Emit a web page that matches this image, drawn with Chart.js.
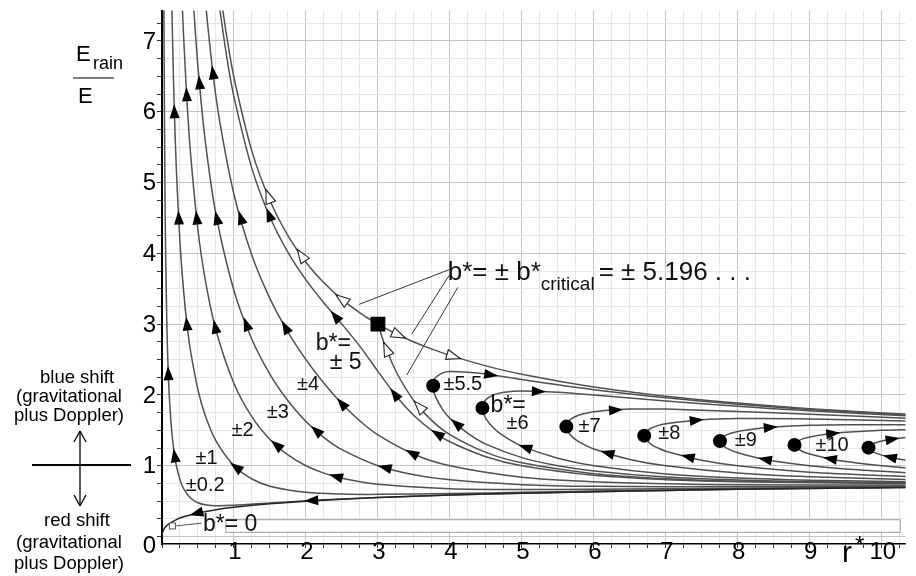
<!DOCTYPE html>
<html>
<head>
<meta charset="utf-8">
<script src="https://cdn.jsdelivr.net/npm/chart.js@4.4.1/dist/chart.umd.min.js"></script>
<style>
  html, body { margin: 0; padding: 0; background: #fff; }
  #wrap { width: 916px; height: 576px; }
</style>
</head>
<body>
<div id="wrap"><canvas id="chart" width="916" height="576"></canvas></div>
<script>
// each curve: [r*, E_rain/E], listed in the direction the photon travels
const curveB0 = [[10.4,0.695],[10,0.691],[9,0.680],[8,0.667],[7,0.652],[6,0.634],[5,0.613],[4,0.586],[3,0.551],[2,0.5],[1.5,0.464],[1,0.414],[0.75,0.380],[0.5,0.333],[0.3,0.279],[0.2,0.240],[0.1,0.183],[0.05,0.137],[0.02,0.091],[0.01,0.066],[0.002,0.031],[0,0]];
const curveB02 = [[10.4,0.695],[8,0.667],[6,0.634],[4,0.587],[3,0.552],[2.5,0.531],[2,0.505],[1.5,0.474],[1,0.442],[0.75,0.436],[0.6,0.450],[0.5,0.478],[0.4,0.541],[0.3,0.678],[0.25,0.803],[0.2,1.0],[0.16,1.252],[0.13,1.545],[0.1,2.013],[0.085,2.37],[0.07,2.88],[0.05,4.03],[0.04,5.03],[0.03,6.70],[0.027,7.45]];
const curveB1 = [[10.4,0.697],[8,0.671],[6,0.642],[5,0.625],[4,0.608],[3,0.596],[2.5,0.600],[2,0.625],[1.5,0.712],[1.25,0.813],[1,1.0],[0.75,1.35],[0.6,1.712],[0.5,2.07],[0.4,2.60],[0.35,2.97],[0.3,3.47],[0.25,4.15],[0.2,5.17],[0.17,6.07],[0.15,6.86],[0.139,7.39],[0.135,7.61]];
const curveB2 = [[10.4,0.703],[8,0.683],[6,0.667],[5,0.665],[4,0.677],[3,0.739],[2.5,0.825],[2.25,0.896],[2,1.0],[1.75,1.153],[1.5,1.371],[1.25,1.690],[1,2.162],[0.75,2.913],[0.6,3.632],[0.5,4.33],[0.4,5.37],[0.35,6.10],[0.3,7.07],[0.28,7.55]];
const curveB3 = [[10.4,0.714],[8,0.703],[6,0.709],[5,0.733],[4,0.801],[3.5,0.873],[3,1.0],[2.5,1.227],[2.25,1.398],[2,1.625],[1.75,1.918],[1.5,2.291],[1.25,2.783],[1,3.472],[0.75,4.55],[0.6,5.60],[0.5,6.63],[0.43,7.62]];
const curveB4 = [[10.4,0.729],[8,0.732],[7,0.745],[6,0.774],[5,0.839],[4,1.0],[3.5,1.163],[3,1.437],[2.75,1.633],[2.5,1.876],[2.25,2.165],[2,2.5],[1.75,2.889],[1.5,3.361],[1.25,3.968],[1,4.831],[0.8,5.874],[0.7,6.61],[0.6,7.58]];
const curveB5 = [[10.4,0.749],[8,0.773],[7,0.804],[6,0.865],[5,1.0],[4.5,1.128],[4,1.339],[3.75,1.497],[3.5,1.709],[3.25,1.989],[3,2.333],[2.75,2.686],[2.5,3.0],[2.25,3.299],[2,3.625],[1.75,4.013],[1.5,4.513],[1.25,5.197],[1,6.21],[0.9,6.77],[0.8,7.47]];
const curveCritOuter = [[10.4,0.753],[8,0.782],[7,0.817],[6,0.888],[5,1.041],[4.5,1.189],[4,1.441],[3.75,1.638],[3.5,1.918],[3.25,2.335],[3.1,2.694],[3.05,2.84],[3,3.0]];
const curveCritInner = [[3,3.0],[2.9,3.06],[2.75,3.16],[2.5,3.351],[2.25,3.584],[2,3.875],[1.75,4.249],[1.5,4.746],[1.25,5.44],[1,6.48],[0.9,7.06],[0.84,7.47]];
const curveCritOut = [[3,3.0],[3.1,2.943],[3.25,2.865],[3.5,2.748],[3.75,2.647],[4,2.559],[4.5,2.411],[5,2.292],[6,2.112],[7,1.983],[8,1.885],[9,1.807],[10.4,1.723]];
const curveB55 = [[10.4,0.760],[9,0.775],[8,0.798],[7,0.840],[6,0.926],[5.5,1.0],[5,1.115],[4.5,1.305],[4.25,1.457],[4,1.669],[3.9,1.793],[3.8,1.976],[3.775,2.058],[3.768,2.131],[3.775,2.196],[3.8,2.246],[3.9,2.312],[4,2.331],[4.25,2.321],[4.5,2.295],[5,2.219],[5.5,2.143],[6,2.074],[7,1.960],[8,1.869],[9,1.796],[10.4,1.716]];
const curveB6 = [[10.4,0.774],[9,0.796],[8,0.826],[7,0.884],[6,1.0],[5.5,1.105],[5,1.278],[4.75,1.418],[4.6,1.541],[4.5,1.666],[4.46,1.761],[4.452,1.816],[4.46,1.864],[4.5,1.934],[4.6,1.998],[4.75,2.037],[5,2.056],[5.5,2.038],[6,2.0],[7,1.916],[8,1.840],[9,1.776],[10.4,1.702]];
const curveB7 = [[10.4,0.806],[9,0.845],[8,0.898],[7,1.0],[6.5,1.089],[6,1.237],[5.8,1.335],[5.7,1.408],[5.63,1.499],[5.618,1.553],[5.63,1.603],[5.7,1.673],[5.8,1.718],[6,1.764],[6.5,1.800],[7,1.800],[8,1.768],[9,1.727],[10.4,1.670]];
const curveB8 = [[10.4,0.846],[9,0.909],[8,1.0],[7.5,1.077],[7,1.206],[6.9,1.247],[6.8,1.300],[6.71,1.388],[6.70,1.4255],[6.71,1.461],[6.8,1.533],[6.9,1.570],[7,1.594],[7.5,1.650],[8,1.667],[9,1.662],[10.4,1.631]];
const curveB9 = [[10.4,0.897],[9.5,0.953],[9,1.0],[8.5,1.068],[8.25,1.116],[8,1.183],[7.85,1.245],[7.76,1.320],[7.752,1.348],[7.76,1.374],[7.85,1.439],[8,1.484],[8.25,1.524],[8.5,1.547],[9,1.571],[9.5,1.580],[10.4,1.579]];
const curveB10 = [[10.4,0.965],[10,1.0],[9.5,1.061],[9.25,1.104],[9,1.165],[8.9,1.201],[8.8,1.266],[8.788,1.295],[8.8,1.323],[8.9,1.379],[9,1.407],[9.25,1.448],[9.5,1.472],[10,1.5],[10.4,1.511]];
const curveB11 = [[10.4,1.070],[10.2,1.104],[10,1.15],[9.9,1.185],[9.83,1.227],[9.816,1.256],[9.83,1.284],[9.9,1.322],[10,1.35],[10.2,1.384],[10.4,1.407]];

// turning points (dots) and the critical point (square)
const turningPoints = [[3.768,2.131],[4.452,1.816],[5.618,1.553],[6.70,1.4255],[7.752,1.348],[8.788,1.295],[9.816,1.256]];
const criticalPoint = [[3,3]];

// arrowheads: [curve, r*, E_rain/E]
const filledArrows = [
  ['b0',0.48,0.33],
  ['b02',2.08,0.51],['b02',0.18,1.14],['b02',0.087,2.3],
  ['b1',1.03,0.98],['b1',0.34,3.0],['b1',0.23,4.5],['b1',0.16,6.0],
  ['b2',2.42,0.84],['b2',1.6,1.3],['b2',0.74,2.96],['b2',0.48,4.5],['b2',0.34,6.24],
  ['b3',3.1,0.98],['b3',2.15,1.5],['b3',1.18,3.0],['b3',0.78,4.5],['b3',0.52,6.41],
  ['b4',3.47,1.17],['b4',2.5,1.88],['b4',1.71,2.95],['b4',1.09,4.5],['b4',0.71,6.55],
  ['b5',3.84,1.47],['b5',3.22,2.0],['b5',2.4,3.1],['b5',1.51,4.55],
  ['b55',4.09,1.59],['b55',4.57,2.3],
  ['b6',5.05,1.26],['b6',5.23,2.06],
  ['b7',6.19,1.17],['b7',6.3,1.81],
  ['b8',7.31,1.13],['b8',7.42,1.67],
  ['b9',8.38,1.08],['b9',8.45,1.56],
  ['b10',9.29,1.12],['b10',9.32,1.46],
  ['b11',10.12,1.13],['b11',10.14,1.40]
];
const openArrows = [
  ['critOuter',3.58,1.84],['critOuter',3.13,2.65],
  ['critInner',2.5,3.35],['critInner',1.94,3.97],['critInner',1.48,4.8],
  ['critOut',3.29,2.86],['critOut',4.05,2.56]
];

// curve labels: [text, r*, E_rain/E]
const curveLabels = [
  ['±0.2',0.60,0.72],['±1',0.62,1.10],['±2',1.12,1.50],['±3',1.61,1.755],['±4',2.03,2.15],
  ['±5.5',4.18,2.15],['±6',4.94,1.595],['±7',5.94,1.56],['±8',7.05,1.45],['±9',8.11,1.35],['±10',9.31,1.29]
];
const bigLabels = [['b*=',2.38,2.72],['± 5',2.55,2.45],['b*=',4.81,1.85]];

const xTickValues = [1,2,3,4,5,6,7,8,9,10];
const yTickValues = [1,2,3,4,5,6,7];

const curves = {
  b0: curveB0, b02: curveB02, b1: curveB1, b2: curveB2, b3: curveB3, b4: curveB4, b5: curveB5,
  critOuter: curveCritOuter, critInner: curveCritInner, critOut: curveCritOut,
  b55: curveB55, b6: curveB6, b7: curveB7, b8: curveB8, b9: curveB9, b10: curveB10, b11: curveB11
};

const FONT = '"Liberation Sans", Arial, Helvetica, sans-serif';
const toXY = arr => arr.map(p => ({ x: p[0], y: p[1] }));

const datasets = Object.keys(curves).map(k => ({
  label: k,
  data: toXY(curves[k]),
  showLine: true,
  borderColor: k === 'b0' ? '#262626' : '#505050',
  borderWidth: 1.5,
  pointRadius: 0,
  tension: 0.3,
  order: 2
}));
// markers last so they sit on top of the curves
datasets.push({ label: 'turning', data: toXY(turningPoints), pointRadius: 7, pointBackgroundColor: '#000', pointBorderColor: '#000', pointBorderWidth: 0, showLine: false, order: 0 });
datasets.push({ label: 'critical', data: toXY(criticalPoint), pointStyle: 'rect', pointRadius: 10.5, pointBackgroundColor: '#000', pointBorderColor: '#000', pointBorderWidth: 0, showLine: false, order: 0 });

function px(chart, r, e) {
  return [chart.scales.x.getPixelForValue(r), chart.scales.y.getPixelForValue(e)];
}

// put an arrow on the nearest piece of its curve, pointing along the travel direction
function placeArrow(chart, pts, r, e) {
  const [qx, qy] = px(chart, r, e);
  let best = null;
  for (let i = 0; i < pts.length - 1; i++) {
    const [ax, ay] = px(chart, pts[i][0], pts[i][1]);
    const [bx, by] = px(chart, pts[i + 1][0], pts[i + 1][1]);
    const dx = bx - ax, dy = by - ay, L = dx * dx + dy * dy;
    if (!L) continue;
    let t = ((qx - ax) * dx + (qy - ay) * dy) / L;
    t = Math.max(0, Math.min(1, t));
    const cx = ax + t * dx, cy = ay + t * dy;
    const d = (cx - qx) ** 2 + (cy - qy) ** 2;
    if (!best || d < best.d) best = { d, x: cx, y: cy, a: Math.atan2(dy, dx) };
  }
  return best;
}

function drawArrow(ctx, a, open) {
  ctx.save();
  ctx.translate(a.x, a.y);
  ctx.rotate(a.a);
  ctx.beginPath();
  ctx.moveTo(7.5, 0);
  ctx.lineTo(-6.5, -5);
  ctx.lineTo(-6.5, 5);
  ctx.closePath();
  if (open) {
    ctx.fillStyle = '#fff';
    ctx.fill();
    ctx.lineWidth = 1.1;
    ctx.strokeStyle = '#222';
    ctx.stroke();
  } else {
    ctx.fillStyle = '#000';
    ctx.fill();
  }
  ctx.restore();
}

function line(ctx, x1, y1, x2, y2) {
  ctx.beginPath();
  ctx.moveTo(x1, y1);
  ctx.lineTo(x2, y2);
  ctx.stroke();
}

const annotate = {
  id: 'annotate',
  beforeDatasetsDraw(chart) {
    const ctx = chart.ctx;
    // label strip for b* = 0
    const [x1, y1] = px(chart, 0.88, 0.245);
    const [x2, y2] = px(chart, 10.25, 0.067);
    ctx.save();
    ctx.fillStyle = '#fff';
    ctx.fillRect(x1, y1, x2 - x1, y2 - y1);
    ctx.strokeStyle = '#9a9a9a';
    ctx.lineWidth = 1;
    ctx.strokeRect(x1 + 0.5, y1 + 0.5, x2 - x1, y2 - y1);
    ctx.restore();
  },
  afterDatasetsDraw(chart) {
    const ctx = chart.ctx;
    ctx.save();
    filledArrows.forEach(([c, r, e]) => drawArrow(ctx, placeArrow(chart, curves[c], r, e), false));
    openArrows.forEach(([c, r, e]) => drawArrow(ctx, placeArrow(chart, curves[c], r, e), true));

    ctx.fillStyle = '#111';
    ctx.textAlign = 'center';
    ctx.textBaseline = 'middle';
    ctx.font = '20px ' + FONT;
    curveLabels.forEach(([t, r, e]) => {
      const [x, y] = px(chart, r, e);
      ctx.fillText(t, x, y);
    });
    ctx.font = '23px ' + FONT;
    bigLabels.forEach(([t, r, e]) => {
      const [x, y] = px(chart, r, e);
      ctx.fillText(t, x, y);
    });

    // b* = 0 label with its small marker
    const [sx, sy] = px(chart, 0.145, 0.15);
    ctx.strokeStyle = '#555';
    ctx.lineWidth = 1;
    ctx.fillStyle = '#fff';
    ctx.fillRect(sx - 3, sy - 3, 6, 6);
    ctx.strokeRect(sx - 3, sy - 3, 6, 6);
    const [lx, ly] = px(chart, 0.55, 0.19);
    line(ctx, sx + 3, sy, lx, ly);
    ctx.fillStyle = '#111';
    ctx.textAlign = 'left';
    ctx.font = '23px ' + FONT;
    const [tx, ty] = px(chart, 0.57, 0.17);
    ctx.fillText('b*= 0', tx, ty);

    // critical impact parameter label
    ctx.strokeStyle = '#333';
    ctx.lineWidth = 1;
    [[3.99, 3.77, 2.74, 3.28], [3.99, 3.69, 3.47, 2.86], [4.11, 3.52, 3.40, 2.28]].forEach(([r1, e1, r2, e2]) => {
      const [a, b] = px(chart, r1, e1);
      const [c, d] = px(chart, r2, e2);
      line(ctx, a, b, c, d);
    });
    let [cx, cy] = px(chart, 3.97, 3.62);
    ctx.textBaseline = 'alphabetic';
    ctx.font = '26px ' + FONT;
    ctx.fillText('b*= ± b*', cx, cy);
    cx += ctx.measureText('b*= ± b*').width;
    ctx.font = '19px ' + FONT;
    ctx.fillText('critical', cx, cy + 10);
    cx += ctx.measureText('critical').width + 4;
    ctx.font = '26px ' + FONT;
    ctx.fillText('= ± 5.196 . . .', cx, cy);
    ctx.restore();
  },
  afterDraw(chart) {
    const ctx = chart.ctx;
    ctx.save();
    ctx.fillStyle = '#000';
    ctx.font = '24px ' + FONT;
    ctx.textBaseline = 'middle';
    ctx.textAlign = 'right';
    yTickValues.forEach(v => ctx.fillText(String(v), 156, chart.scales.y.getPixelForValue(v) + 1));
    ctx.fillText('0', 156, 546);
    ctx.textAlign = 'center';
    xTickValues.forEach(v => ctx.fillText(String(v), chart.scales.x.getPixelForValue(v) + 1, 552));
    ctx.textAlign = 'left';
    ctx.font = '30px ' + FONT;
    ctx.fillText('r', 842, 554);
    ctx.font = '24px ' + FONT;
    ctx.fillText('*', 855, 546);

    // y axis title as a fraction
    ctx.font = '22px ' + FONT;
    ctx.fillText('E', 76, 55);
    ctx.font = '18px ' + FONT;
    ctx.fillText('rain', 93, 64);
    ctx.font = '22px ' + FONT;
    ctx.fillText('E', 78, 97);
    ctx.strokeStyle = '#000';
    ctx.lineWidth = 1.2;
    line(ctx, 73, 78, 114, 78);

    // blue / red shift note
    ctx.font = '18.5px ' + FONT;
    ctx.textAlign = 'center';
    ctx.fillText('blue shift', 77, 378);
    ctx.fillText('(gravitational', 69, 397);
    ctx.fillText('plus Doppler)', 69, 416);
    ctx.fillText('red shift', 77, 521);
    ctx.fillText('(gravitational', 69, 543);
    ctx.fillText('plus Doppler)', 69, 564);
    ctx.lineWidth = 2;
    line(ctx, 32, 465, 131, 465);
    ctx.lineWidth = 1.3;
    line(ctx, 80, 431, 80, 506);
    line(ctx, 74, 442, 80, 431);
    line(ctx, 86, 442, 80, 431);
    line(ctx, 74, 495, 80, 506);
    line(ctx, 86, 495, 80, 506);
    ctx.restore();
  }
};

function quarterTicks(max) {
  return scale => {
    const t = [];
    for (let i = 0; i * 0.25 <= max; i++) t.push({ value: i * 0.25 });
    scale.ticks = t;
  };
}
const gridColor = c => {
  const v = c.tick ? c.tick.value : 0;
  return Math.abs(v - Math.round(v)) < 1e-6 ? '#c4c4c4' : '#e6e6e6';
};

new Chart(document.getElementById('chart'), {
  type: 'scatter',
  data: { datasets },
  options: {
    responsive: false,
    animation: false,
    devicePixelRatio: 1,
    layout: { padding: { top: 5, right: 0, left: 0, bottom: 0 } },
    plugins: { legend: { display: false }, tooltip: { enabled: false } },
    scales: {
      x: {
        type: 'linear', min: 0, max: 10.33,
        afterBuildTicks: quarterTicks(10.3),
        afterFit: s => { s.height = 32; },
        ticks: { display: false },
        grid: { color: gridColor, lineWidth: 1, drawTicks: true, tickLength: 4, tickColor: '#333' },
        border: { color: '#000', width: 1.5 }
      },
      y: {
        type: 'linear', min: -0.105, max: 7.43,
        afterBuildTicks: quarterTicks(7.4),
        afterFit: s => { s.width = 162; },
        ticks: { display: false },
        grid: { color: gridColor, lineWidth: 1, drawTicks: true, tickLength: 5, tickColor: '#333' },
        border: { color: '#000', width: 2 }
      }
    }
  },
  plugins: [annotate]
});
</script>
</body>
</html>
